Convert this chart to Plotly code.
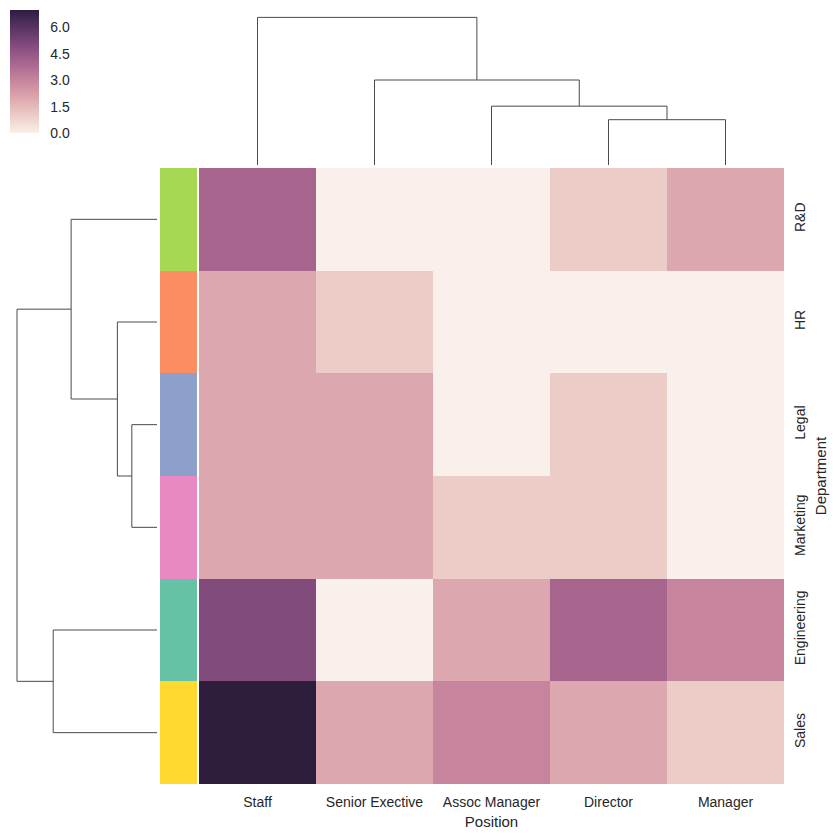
import numpy as np
import plotly.graph_objects as go

# ---------------- data ----------------
departments = ["R&D", "HR", "Legal", "Marketing", "Engineering", "Sales"]
positions = ["Staff", "Senior Exective", "Assoc Manager", "Director", "Manager"]
counts = [
    [4, 0, 0, 1, 2],
    [2, 1, 0, 0, 0],
    [2, 2, 0, 1, 0],
    [2, 2, 1, 1, 0],
    [5, 0, 2, 4, 3],
    [7, 2, 3, 2, 1],
]
dept_colors = ["#a6d854", "#fc8d62", "#8da0cb", "#e78ac3", "#66c2a5", "#ffd92f"]
cbar_ticks = [0.0, 1.5, 3.0, 4.5, 6.0]
vmin, vmax = 0, 7

W = H = 839
FONT = "Liberation Sans, Arial, sans-serif"
TXT = "#262626"
LINE = "#4a4a4a"


# ---------------- colormap (seaborn cubehelix, light=.95) ----------------
def cubehelix(x, start=0.0, rot=0.4, gamma=1.0, hue=0.8):
    xg = x ** gamma
    a = hue * xg * (1 - xg) / 2
    phi = 2 * np.pi * (start / 3 + rot * x)
    r = xg + a * (-0.14861 * np.cos(phi) + 1.78277 * np.sin(phi))
    g = xg + a * (-0.29227 * np.cos(phi) - 0.90649 * np.sin(phi))
    b = xg + a * (1.97294 * np.cos(phi))
    return [min(max(v, 0), 1) for v in (r, g, b)]


colorscale = []
for t in np.linspace(0, 1, 64):
    r, g, b = cubehelix(0.95 + (0.15 - 0.95) * t)
    colorscale.append([float(t), f"rgb({int(round(r*255))},{int(round(g*255))},{int(round(b*255))})"])


# ---------------- hierarchical clustering (average linkage, euclidean) ----------------
def upgma(X):
    X = np.asarray(X, float)
    n = len(X)
    D = np.sqrt(((X[:, None, :] - X[None, :, :]) ** 2).sum(-1))
    clusters = {i: ([i], float(i), 0.0) for i in range(n)}
    segs = []
    nid = n
    while len(clusters) > 1:
        keys = list(clusters)
        best = None
        for i in range(len(keys)):
            for j in range(i + 1, len(keys)):
                a, b = keys[i], keys[j]
                d = D[np.ix_(clusters[a][0], clusters[b][0])].mean()
                if best is None or d < best[0]:
                    best = (d, a, b)
        d, a, b = best
        ma, pa, ha = clusters.pop(a)
        mb, pb, hb = clusters.pop(b)
        segs.append(([pa, pa, pb, pb], [ha, d, d, hb]))
        clusters[nid] = (ma + mb, (pa + pb) / 2, d)
        nid += 1
    return segs, max(s[1][1] for s in segs)


M = np.array(counts, float)
row_segs, row_max = upgma(M)
col_segs, col_max = upgma(M.T)

nr, nc = len(departments), len(positions)

fig = go.Figure()

# main heatmap
fig.add_trace(go.Heatmap(
    z=counts, x=list(range(nc)), y=list(range(nr)),
    zmin=vmin, zmax=vmax, colorscale=colorscale,
    xaxis="x", yaxis="y",
    colorbar=dict(
        x=10 / W, xanchor="left", y=1 - 10 / H, yanchor="top",
        len=123 / H, lenmode="fraction", thickness=29, thicknessmode="pixels",
        xpad=0, ypad=0, outlinewidth=0,
        tickvals=cbar_ticks, ticktext=[f"{v:.1f}" for v in cbar_ticks],
        ticks="outside", ticklen=9, tickcolor="rgba(0,0,0,0)",
        tickfont=dict(family=FONT, size=14, color=TXT),
    ),
))

# row colors
cs_rows = []
for i, c in enumerate(dept_colors):
    cs_rows.append([i / nr, c])
    cs_rows.append([(i + 1) / nr, c])
fig.add_trace(go.Heatmap(
    z=[[i] for i in range(nr)], x=[0], y=list(range(nr)),
    zmin=-0.5, zmax=nr - 0.5, colorscale=cs_rows, showscale=False,
    xaxis="x2", yaxis="y2",
))

# column dendrogram
for xs, ys in col_segs:
    fig.add_trace(go.Scatter(x=xs, y=ys, mode="lines", line=dict(color=LINE, width=1),
                             xaxis="x3", yaxis="y3", showlegend=False, hoverinfo="skip"))
# row dendrogram
for ps, hs in row_segs:
    fig.add_trace(go.Scatter(x=hs, y=ps, mode="lines", line=dict(color=LINE, width=1),
                             xaxis="x4", yaxis="y4", showlegend=False, hoverinfo="skip"))

hm_x = [199 / W, 784 / W]
hm_y = [1 - 784 / H, 1 - 168 / H]
hidden = dict(visible=False, showgrid=False, zeroline=False, fixedrange=True)

fig.update_layout(
    width=W, height=H, margin=dict(l=0, r=0, t=0, b=0),
    paper_bgcolor="white", plot_bgcolor="white", showlegend=False,
    font=dict(family=FONT, color=TXT, size=14),
    xaxis=dict(domain=hm_x, anchor="y", range=[-0.5, nc - 0.5],
               tickvals=list(range(nc)), ticktext=positions,
               showgrid=False, zeroline=False, ticks="", ticklabelstandoff=8,
               tickfont=dict(size=14), title=dict(text="Position", font=dict(size=15), standoff=7)),
    yaxis=dict(domain=hm_y, anchor="x", side="right", range=[nr - 0.5, -0.5],
               tickvals=list(range(nr)), ticktext=departments, tickangle=-90,
               showgrid=False, zeroline=False, ticks="", ticklabelstandoff=6,
               tickfont=dict(size=14), title=dict(text="Department", font=dict(size=15), standoff=8)),
    xaxis2=dict(domain=[160 / W, 197 / W], anchor="y2", range=[-0.5, 0.5], **hidden),
    yaxis2=dict(domain=hm_y, anchor="x2", range=[nr - 0.5, -0.5], **hidden),
    xaxis3=dict(domain=hm_x, anchor="y3", range=[-0.5, nc - 0.5], **hidden),
    yaxis3=dict(domain=[1 - 165 / H, 1 - 10 / H], anchor="x3", range=[0, col_max * 1.05], **hidden),
    xaxis4=dict(domain=[10 / W, 157 / W], anchor="y4", range=[row_max * 1.05, 0], **hidden),
    yaxis4=dict(domain=hm_y, anchor="x4", range=[nr - 0.5, -0.5], **hidden),
)

fig.write_html("out.html")
